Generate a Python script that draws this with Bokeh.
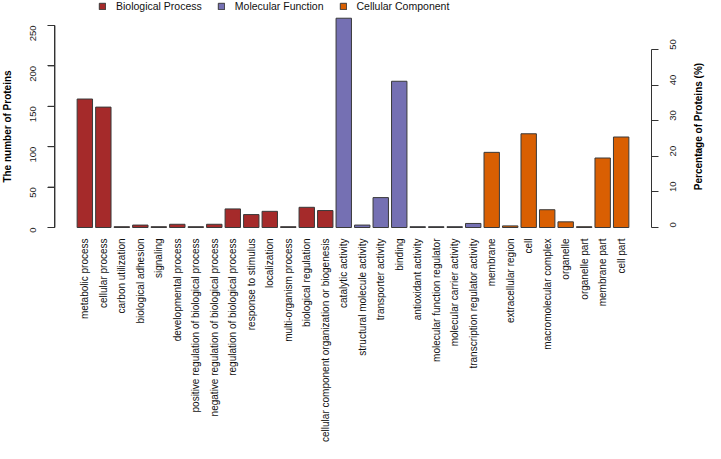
import math
from bokeh.plotting import figure
from bokeh.models import (FactorRange, Range1d, LinearAxis, FixedTicker, Legend,
                          LegendItem, ColumnDataSource)
from bokeh.core.properties import value
from bokeh.embed import file_html
from bokeh.resources import INLINE

# ---------------- data ----------------
bp_terms = ["metabolic process", "cellular process", "carbon utilization",
            "biological adhesion", "signaling", "developmental process",
            "positive regulation of biological process",
            "negative regulation of biological process",
            "regulation of biological process", "response to stimulus",
            "localization", "multi-organism process", "biological regulation",
            "cellular component organization or biogenesis"]
bp_counts = [159, 149, 1, 3, 1, 4, 1, 4, 23, 16, 20, 1, 25, 21]

mf_terms = ["catalytic activity", "structural molecule activity",
            "transporter activity", "binding", "antioxidant activity",
            "molecular function regulator", "molecular carrier activity",
            "transcription regulator activity"]
mf_counts = [259, 3, 37, 181, 1, 1, 1, 5]

cc_terms = ["membrane", "extracellular region", "cell", "macromolecular complex",
            "organelle", "organelle part", "membrane part", "cell part"]
cc_counts = [93, 2, 116, 22, 7, 1, 86, 112]

group_names = ["Biological Process", "Molecular Function", "Cellular Component"]
total_proteins = 440
count_ticks = [0, 50, 100, 150, 200, 250]
pct_ticks = [0, 10, 20, 30, 40, 50]
left_title = "The number of Proteins"
right_title = "Percentage of Proteins (%)"

categories = bp_terms + mf_terms + cc_terms

# ---------------- style / layout ----------------
FONT = "Liberation Sans"
COLORS = ["#A52A2A", "#7570B3", "#D95F02"]
EDGE = "#3a3a3a"
AXIS = "#333333"
W, H = 705, 443
BASE = 227            # pixel row of the zero line
PXU = 0.808           # pixels per protein
Y_END = BASE / PXU
Y_START = -(H - BASE) / PXU
PAD = 4.06            # factor units of padding on each side of the bars
AX_GAP = 1.117        # factor units between the outer bar edges and the axes
N = len(categories)
PX_PER_FACTOR = W / (N + 2 * PAD)
TICK_PX = 7

p = figure(width=W, height=H,
           x_range=FactorRange(factors=categories, range_padding=PAD,
                               range_padding_units="absolute"),
           y_range=Range1d(Y_START, Y_END),
           output_backend="svg", toolbar_location=None,
           min_border_left=0, min_border_right=0,
           min_border_top=0, min_border_bottom=0)
p.outline_line_color = None
p.xgrid.visible = False
p.ygrid.visible = False
p.xaxis.visible = False
p.yaxis.visible = False
p.background_fill_color = "white"
p.border_fill_color = "white"

renderers = []
for terms, counts, color in zip([bp_terms, mf_terms, cc_terms],
                                [bp_counts, mf_counts, cc_counts], COLORS):
    src = ColumnDataSource(dict(x=terms, top=counts))
    r = p.vbar(x="x", top="top", bottom=0, width=0.833, source=src,
               fill_color=color, line_color=EDGE, line_width=1)
    renderers.append(r)

def style_y(ax):
    ax.bounds = (ax.ticker.ticks[0], ax.ticker.ticks[-1])
    ax.axis_line_color = AXIS
    ax.axis_line_width = 1
    ax.major_tick_line_color = AXIS
    ax.minor_tick_line_color = None
    ax.major_tick_out = TICK_PX
    ax.major_tick_in = 0
    ax.major_label_orientation = math.pi / 2
    ax.major_label_standoff = 15
    ax.major_label_text_font = FONT
    ax.major_label_text_font_size = "9.5px"
    ax.major_label_text_color = "#222222"

la = LinearAxis(ticker=FixedTicker(ticks=count_ticks), fixed_location=-AX_GAP)
p.add_layout(la, "left")
style_y(la)

# explicit rule and ticks for the count axis (same position as the axis)
ax_x = -AX_GAP
tick_x = ax_x - TICK_PX / PX_PER_FACTOR
rule = p.segment(x0=[ax_x], y0=[count_ticks[0]], x1=[ax_x], y1=[count_ticks[-1]],
                 line_color=AXIS, line_width=1)
ticks = p.segment(x0=[ax_x] * len(count_ticks), y0=count_ticks,
                  x1=[tick_x] * len(count_ticks), y1=count_ticks,
                  line_color=AXIS, line_width=1)

p.extra_y_ranges = {"pct": Range1d(Y_START * 100.0 / total_proteins,
                                   Y_END * 100.0 / total_proteins)}
ra = LinearAxis(y_range_name="pct", ticker=FixedTicker(ticks=pct_ticks),
                fixed_location=N + AX_GAP)
p.add_layout(ra, "right")
style_y(ra)

# category labels under the bars
t1 = p.text(x=categories, y=[0] * N, text=categories,
            angle=math.pi / 2, text_align="right", text_baseline="middle",
            y_offset=11, text_font=value(FONT), text_font_size="10px",
            text_color="#111111")

# axis titles
mid = (count_ticks[0] + count_ticks[-1]) / 2
title_off = 77.5
t2 = p.text(x=[categories[0]], y=[mid], text=[left_title], angle=math.pi / 2,
            x_offset=-title_off, text_align="center", text_baseline="middle",
            text_font=value(FONT), text_font_style="bold", text_font_size="10px",
            text_color="#000000")
t3 = p.text(x=[categories[-1]], y=[mid], text=[right_title], angle=math.pi / 2,
            x_offset=title_off, text_align="center", text_baseline="middle",
            text_font=value(FONT), text_font_style="bold", text_font_size="10px",
            text_color="#000000")
for t in (t1, t2, t3):
    t.level = "overlay"

legend = Legend(items=[LegendItem(label=n, renderers=[r])
                       for n, r in zip(group_names, renderers)],
                orientation="horizontal", location=(98, H - 12))
legend.padding = 0
legend.margin = 0
legend.spacing = 15
legend.label_standoff = 10
legend.glyph_width = 8
legend.glyph_height = 8
legend.label_height = 12
legend.label_text_font = FONT
legend.label_text_font_size = "10.5px"
legend.label_text_color = "#111111"
legend.background_fill_alpha = 0
legend.border_line_color = None
p.add_layout(legend)

open("out.html", "w").write(file_html(p, INLINE))
